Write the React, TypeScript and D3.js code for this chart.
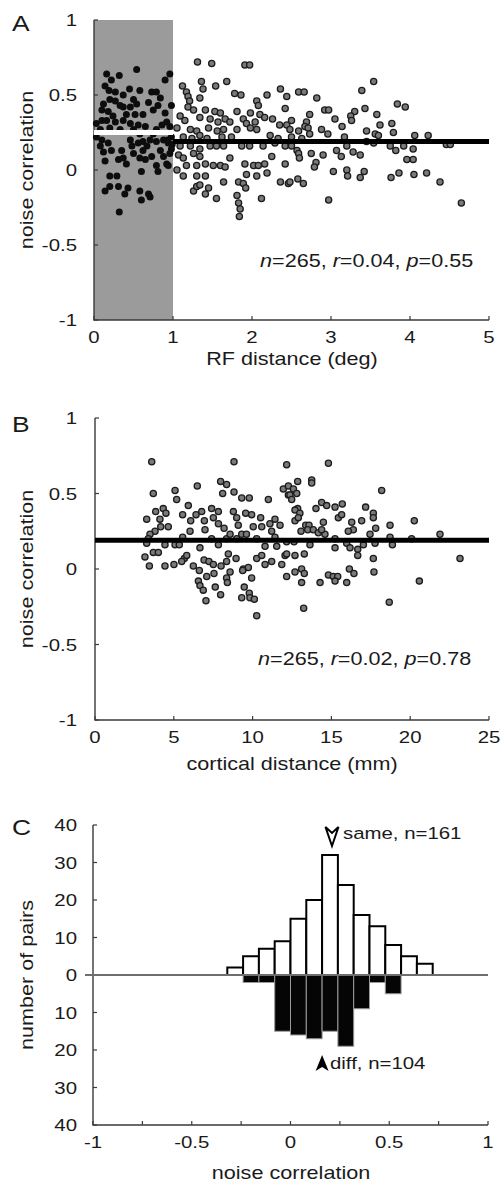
import React from "react";
import * as d3 from "d3";

// panel A: noise correlation vs RF distance (deg), pairs with RF distance < 1 deg in black
const nearRF: [number, number][] = [
  [0.16, 0.64], [0.22, 0.6], [0.32, 0.63], [0.54, 0.67], [0.96, 0.64], [0.9, 0.6],
  [0.14, 0.56], [0.19, 0.53], [0.27, 0.52], [0.37, 0.5], [0.45, 0.54], [0.58, 0.53], [0.73, 0.52], [0.79, 0.52], [0.84, 0.48],
  [0.12, 0.44], [0.2, 0.47], [0.27, 0.46], [0.33, 0.43], [0.37, 0.42], [0.5, 0.47], [0.54, 0.44], [0.69, 0.45], [0.81, 0.43], [0.98, 0.43], [0.46, 0.42],
  [0.1, 0.4], [0.18, 0.39], [0.24, 0.36], [0.41, 0.37], [0.52, 0.37], [0.62, 0.37], [0.75, 0.4], [0.9, 0.38],
  [0.03, 0.31], [0.1, 0.33], [0.16, 0.33], [0.27, 0.32], [0.37, 0.33], [0.46, 0.31], [0.56, 0.3], [0.65, 0.29], [0.86, 0.3], [0.92, 0.32], [0.96, 0.29],
  [0.08, 0.27], [0.2, 0.28], [0.33, 0.27], [0.5, 0.27], [0.79, 0.27], [0.58, 0.24], [0.75, 0.24],
  [0.03, 0.22], [0.1, 0.2], [0.18, 0.18], [0.46, 0.2], [0.48, 0.16], [0.56, 0.18], [0.62, 0.19], [0.71, 0.2], [0.79, 0.19], [0.88, 0.2],
  [0.93, 0.2], [0.94, 0.18], [0.98, 0.22], [0.99, 0.17], [0.98, 0.14], [0.67, 0.16], [0.08, 0.16],
  [0.12, 0.12], [0.22, 0.13], [0.35, 0.13], [0.5, 0.11], [0.62, 0.13], [0.84, 0.13], [0.96, 0.11], [0.88, 0.09],
  [0.14, 0.06], [0.31, 0.07], [0.37, 0.08], [0.41, 0.04], [0.58, 0.08], [0.65, 0.07], [0.73, 0.09], [0.79, 0.03], [0.92, 0.04], [0.94, 0.03],
  [0.2, -0.04], [0.29, -0.04], [0.6, -0.01], [0.81, -0.01],
  [0.14, -0.14], [0.2, -0.11], [0.31, -0.11], [0.39, -0.16], [0.43, -0.12], [0.58, -0.14], [0.69, -0.16], [0.71, -0.18], [0.6, -0.2], [0.32, -0.28],
];

const farRF: [number, number][] = [
  [1.31, 0.72], [1.49, 0.71], [1.91, 0.7], [1.97, 0.7],
  [1.36, 0.59], [1.54, 0.56], [1.68, 0.59], [1.12, 0.56], [1.17, 0.52], [1.19, 0.49], [1.21, 0.46], [1.19, 0.42], [1.38, 0.54], [1.34, 0.48],
  [1.78, 0.51], [1.86, 0.5], [2.19, 0.5], [2.36, 0.54], [2.06, 0.46], [2.08, 0.43], [2.42, 0.41],
  [1.26, 0.4], [1.41, 0.4], [1.53, 0.39], [1.6, 0.38], [1.81, 0.39], [1.98, 0.38], [2.1, 0.37], [2.16, 0.35], [2.26, 0.34],
  [1.09, 0.36], [1.15, 0.33], [1.34, 0.35], [1.47, 0.34], [1.57, 0.32], [1.66, 0.34], [1.72, 0.32], [1.89, 0.34], [1.93, 0.31], [2.04, 0.32],
  [1.05, 0.28], [1.22, 0.27], [1.3, 0.26], [1.45, 0.28], [1.56, 0.26], [1.64, 0.27], [1.81, 0.27], [1.98, 0.28], [2.06, 0.27], [2.35, 0.3],
  [2.44, 0.3], [2.23, 0.23], [2.33, 0.21],
  [1.13, 0.22], [1.24, 0.21], [1.34, 0.23], [1.43, 0.21], [1.62, 0.22], [1.74, 0.22],
  [1.47, 0.16], [1.55, 0.16], [1.64, 0.16], [1.87, 0.16], [1.97, 0.16], [2.14, 0.16], [2.29, 0.18], [1.09, 0.16], [1.22, 0.16], [1.34, 0.14],
  [1.07, 0.1], [1.13, 0.08], [1.26, 0.11], [1.34, 0.09], [1.17, 0.03], [1.3, 0.03], [1.41, 0.04], [1.51, 0.03], [1.6, 0.03], [1.66, 0.02],
  [1.72, 0.08], [1.91, 0.04], [2.02, 0.03], [2.08, 0.03], [2.16, 0.04], [2.25, 0.09],
  [1.05, 0.0], [1.13, -0.04], [1.3, -0.04], [1.41, -0.04], [1.64, -0.08], [1.83, -0.08], [1.89, -0.09], [1.93, -0.03], [2.06, -0.04],
  [2.19, -0.02], [2.36, -0.08], [2.46, -0.09],
  [1.26, -0.14], [1.3, -0.11], [1.34, -0.1], [1.41, -0.16], [1.45, -0.12], [1.55, -0.19], [1.81, -0.17], [1.83, -0.22], [1.85, -0.26],
  [1.84, -0.31], [1.92, -0.12], [2.12, -0.19], [2.97, -0.2], [4.65, -0.22],
  [2.59, 0.52], [2.66, 0.52], [2.82, 0.48], [2.44, 0.49], [3.54, 0.59], [3.39, 0.53], [2.92, 0.4], [2.97, 0.4], [2.73, 0.37], [3.3, 0.39],
  [3.43, 0.41], [3.25, 0.36], [3.26, 0.33], [3.05, 0.34], [3.58, 0.37], [3.84, 0.44], [3.94, 0.42],
  [2.5, 0.33], [2.69, 0.32], [3.14, 0.29], [3.62, 0.3], [3.77, 0.31], [2.67, 0.29], [2.71, 0.28], [2.88, 0.27], [2.48, 0.27], [2.59, 0.26],
  [2.96, 0.24], [2.73, 0.24], [3.45, 0.26], [3.56, 0.24], [3.6, 0.23], [3.79, 0.25], [4.06, 0.23], [4.23, 0.23],
  [2.5, 0.22], [2.63, 0.21], [3.17, 0.22], [2.42, 0.16], [2.5, 0.16], [2.57, 0.13], [2.59, 0.11], [3.2, 0.16], [3.45, 0.19], [3.54, 0.18],
  [3.75, 0.16], [3.92, 0.16], [4.04, 0.14], [3.82, 0.13], [4.46, 0.17], [4.51, 0.17],
  [2.75, 0.11], [2.9, 0.1], [3.07, 0.13], [3.13, 0.09], [3.28, 0.12], [3.37, 0.1], [2.6, 0.08], [2.42, 0.04], [2.81, 0.05], [2.79, 0.02],
  [3.96, 0.07], [4.04, 0.07],
  [3.03, -0.01], [3.2, 0.0], [3.21, -0.04], [3.37, -0.05], [3.42, -0.01], [3.86, -0.02], [3.76, -0.05], [4.05, -0.03], [4.21, -0.02],
  [4.38, -0.08], [2.48, -0.08], [2.58, -0.06], [2.65, -0.09],
];

// fitted levels in panel A (inside / outside 1 deg) and panel B
const nearMean = 0.25;
const fitA = 0.19;
const fitB = 0.19;

// panel B: noise correlation vs cortical distance (mm)
const cortical: [number, number][] = [
  [3.6, 0.71], [8.82, 0.71], [12.16, 0.69], [3.7, 0.5], [6.49, 0.55], [5.08, 0.52], [5.18, 0.46], [7.97, 0.58], [8.35, 0.56], [8.82, 0.51],
  [8.1, 0.5], [9.31, 0.47], [9.79, 0.47], [11.0, 0.46], [11.95, 0.53], [12.27, 0.49],
  [3.28, 0.33], [3.85, 0.38], [4.12, 0.33], [4.33, 0.4], [4.5, 0.37], [4.65, 0.28], [4.17, 0.28], [3.81, 0.25], [3.49, 0.23], [3.38, 0.2],
  [5.56, 0.36], [5.92, 0.42], [6.07, 0.32], [6.41, 0.36], [6.77, 0.38], [6.94, 0.32], [7.4, 0.4], [7.83, 0.38], [7.51, 0.34], [6.98, 0.26],
  [7.83, 0.3], [8.19, 0.27], [8.78, 0.38], [8.99, 0.34], [9.56, 0.37], [9.94, 0.36], [10.51, 0.34], [11.1, 0.3], [11.42, 0.33], [11.74, 0.29],
  [9.09, 0.29], [10.04, 0.28], [10.58, 0.28], [11.21, 0.25], [5.56, 0.21], [6.03, 0.25],
  [5.08, 0.16], [5.35, 0.16], [4.44, 0.16], [3.7, 0.11], [4.02, 0.11], [3.28, 0.17], [6.66, 0.14], [7.4, 0.2], [7.83, 0.16], [8.35, 0.2],
  [8.57, 0.23], [8.99, 0.2], [9.31, 0.23], [9.61, 0.23], [10.26, 0.2], [10.79, 0.15], [11.42, 0.21], [11.53, 0.15], [12.16, 0.18], [12.06, 0.09],
  [3.17, 0.08], [3.45, 0.02], [4.44, 0.02], [5.01, 0.03], [5.67, 0.07], [5.82, 0.09], [6.24, 0.02], [6.92, 0.06], [7.23, 0.05], [7.51, 0.03],
  [8.0, 0.02], [8.35, 0.05], [8.46, 0.1], [8.95, 0.07], [9.41, 0.0], [9.73, 0.01], [10.26, 0.07], [10.58, 0.09], [10.79, 0.03], [11.21, 0.05],
  [11.85, 0.03], [5.5, 0.05],
  [12.16, -0.05], [6.62, -0.01], [7.09, -0.05], [7.55, -0.03], [8.35, -0.06], [8.57, -0.02], [9.37, -0.01], [9.94, -0.06], [6.56, -0.08],
  [6.66, -0.11], [6.87, -0.14], [7.63, -0.12], [7.97, -0.17], [7.04, -0.21], [8.4, -0.09], [9.47, -0.12], [9.79, -0.16], [9.83, -0.19],
  [10.11, -0.2], [9.31, -0.19], [10.26, -0.31], [13.24, -0.26], [18.67, -0.22], [20.58, -0.08],
  [14.81, 0.7], [18.19, 0.52], [13.75, 0.59], [13.75, 0.57], [12.86, 0.58], [12.27, 0.55], [12.59, 0.53], [12.8, 0.5], [12.37, 0.49], [12.48, 0.46],
  [12.86, 0.4], [12.69, 0.39], [13.0, 0.37], [12.69, 0.32], [12.9, 0.34], [13.37, 0.29], [13.58, 0.29], [13.5, 0.26], [13.07, 0.25], [13.85, 0.26],
  [14.17, 0.24], [14.49, 0.31], [14.38, 0.44], [14.7, 0.42], [14.02, 0.4], [15.23, 0.41], [15.69, 0.43], [15.44, 0.34], [15.65, 0.36], [17.17, 0.41],
  [17.66, 0.37], [17.66, 0.34], [16.92, 0.32], [16.29, 0.31], [16.39, 0.26], [16.07, 0.25], [17.45, 0.23], [17.81, 0.27], [18.72, 0.29], [20.26, 0.32],
  [21.89, 0.23], [14.59, 0.23], [14.38, 0.26], [15.23, 0.2], [15.97, 0.17], [16.18, 0.14], [16.67, 0.13], [16.67, 0.09], [17.03, 0.16], [17.77, 0.17],
  [18.72, 0.21], [18.87, 0.16], [20.09, 0.2], [17.66, 0.07], [17.7, -0.02], [23.16, 0.07], [15.23, 0.14], [13.28, 0.1], [12.69, 0.09], [12.16, 0.1],
  [13.64, 0.16], [12.63, 0.18], [12.69, -0.02], [13.11, 0.0], [13.28, -0.03], [13.11, -0.09], [14.28, -0.09], [14.81, -0.04], [15.12, -0.05],
  [15.4, -0.05], [15.23, -0.08], [15.97, -0.09], [16.14, 0.0], [16.43, -0.03],
];

// panel C: histogram of noise correlation, bins of 0.08
const binLeft = [-0.32, -0.24, -0.16, -0.08, 0, 0.08, 0.16, 0.24, 0.32, 0.4, 0.48, 0.56, 0.64];
const sameCounts = [2, 5, 7, 9, 15, 20, 32, 24, 16, 13, 8, 5, 3];
const diffCounts = [0, 2, 2, 15, 16, 17, 15, 19, 9, 2, 5, 0, 0];
const binWidth = 0.08;
const sameMean = 0.21;
const diffMean = 0.16;

const corrTicks = [-1, -0.5, 0, 0.5, 1];
const rfTicks = [0, 1, 2, 3, 4, 5];
const cortTicks = [0, 5, 10, 15, 20, 25];
const countTicks = [-40, -30, -20, -10, 0, 10, 20, 30, 40];
const histMinor = [-1, -0.75, -0.5, -0.25, 0, 0.25, 0.5, 0.75, 1];
const histLabels = [-1, -0.5, 0, 0.5, 1];

const FONT = "'Liberation Sans', Arial, Helvetica, sans-serif";
const SX = 1.2; // the original lettering is wider than Arial
const AX = "#3a3a3a";

const xA = d3.scaleLinear().domain([0, 5]).range([94, 489]);
const yA = d3.scaleLinear().domain([-1, 1]).range([320, 20]);
const xB = d3.scaleLinear().domain([0, 25]).range([95, 489]);
const yB = d3.scaleLinear().domain([-1, 1]).range([720, 418]);
const xC = d3.scaleLinear().domain([-1, 1]).range([93, 488]);
const yC = d3.scaleLinear().domain([-40, 40]).range([1125, 825]);

function Txt({ x, y, size, anchor = "start", rotate = 0, children }: any) {
  const tr = `translate(${x},${y})${rotate ? ` rotate(${rotate})` : ""} scale(${SX},1)`;
  return (
    <text transform={tr} fontSize={size} textAnchor={anchor} fontFamily={FONT} fill="#1a1a1a">
      {children}
    </text>
  );
}

function Axes({ x, y, xt, yt, xl, yl, fmtY }: any) {
  const [x0, x1] = x.range();
  const [y0, y1] = y.range();
  return (
    <g>
      <path d={`M${x0},${y1}V${y0}H${x1}`} fill="none" stroke={AX} strokeWidth={1.4} />
      {xt.map((t: number) => (
        <line key={"x" + t} x1={x(t)} x2={x(t)} y1={y0} y2={y0 - 4} stroke={AX} strokeWidth={1.2} />
      ))}
      {yt.map((t: number) => (
        <line key={"y" + t} x1={x0} x2={x0 + 4} y1={y(t)} y2={y(t)} stroke={AX} strokeWidth={1.2} />
      ))}
      {xl.map((t: number) => (
        <Txt key={"xl" + t} x={x(t)} y={y0 + 23} size={17} anchor="middle">
          {String(t)}
        </Txt>
      ))}
      {yl.map((t: number) => (
        <Txt key={"yl" + t} x={77} y={y(t) + 6} size={17} anchor="end">
          {fmtY ? fmtY(t) : String(t)}
        </Txt>
      ))}
    </g>
  );
}

function Stats({ x, y, r, p }: any) {
  return (
    <text transform={`translate(${x},${y}) scale(${SX},1)`} fontSize={18} fontFamily={FONT} fill="#1a1a1a">
      <tspan fontStyle="italic">n</tspan>=265, <tspan fontStyle="italic">r</tspan>={r},{" "}
      <tspan fontStyle="italic">p</tspan>={p}
    </text>
  );
}

export default function App() {
  const zeroY = yC(0);
  return (
    <svg width={501} height={1184} style={{ position: "absolute", left: 0, top: 0, background: "#fff" }}>
      {/* ---- A ---- */}
      <rect x={xA(0)} y={yA(1)} width={xA(1) - xA(0)} height={yA(-1) - yA(1)} fill="#9b9b9b" />
      <Axes x={xA} y={yA} xt={rfTicks} yt={corrTicks} xl={rfTicks} yl={corrTicks} />
      {farRF.map((d, i) => (
        <circle key={"f" + i} cx={xA(d[0])} cy={yA(d[1])} r={3.1} fill="#7a7a7a" stroke="#1c1c1c" strokeWidth={1.3} />
      ))}
      {nearRF.map((d, i) => (
        <circle key={"n" + i} cx={xA(d[0])} cy={yA(d[1])} r={3.5} fill="#0d0d0d" />
      ))}
      <line x1={xA(0)} x2={xA(1)} y1={yA(nearMean)} y2={yA(nearMean)} stroke="#fff" strokeWidth={5} />
      <line x1={xA(1)} x2={xA(5)} y1={yA(fitA)} y2={yA(fitA)} stroke="#000" strokeWidth={5} />
      <Stats x={260} y={267} r="0.04" p="0.55" />
      <Txt x={12} y={31} size={22}>A</Txt>
      <Txt x={33} y={170} size={18} anchor="middle" rotate={-90}>noise correlation</Txt>
      <Txt x={292} y={365} size={18} anchor="middle">RF distance (deg)</Txt>

      {/* ---- B ---- */}
      <Axes x={xB} y={yB} xt={cortTicks} yt={corrTicks} xl={cortTicks} yl={corrTicks} />
      {cortical.map((d, i) => (
        <circle key={"c" + i} cx={xB(d[0])} cy={yB(d[1])} r={3.1} fill="#7a7a7a" stroke="#1c1c1c" strokeWidth={1.3} />
      ))}
      <line x1={xB(0)} x2={xB(25)} y1={yB(fitB)} y2={yB(fitB)} stroke="#000" strokeWidth={5} />
      <Stats x={258} y={665} r="0.02" p="0.78" />
      <Txt x={12} y={432} size={22}>B</Txt>
      <Txt x={33} y={569} size={18} anchor="middle" rotate={-90}>noise correlation</Txt>
      <Txt x={292} y={770} size={18} anchor="middle">cortical distance (mm)</Txt>

      {/* ---- C ---- */}
      <Axes x={xC} y={yC} xt={histMinor} yt={countTicks} xl={histLabels} yl={countTicks} fmtY={(t: number) => String(Math.abs(t))} />
      {binLeft.map((b, i) =>
        sameCounts[i] > 0 ? (
          <rect key={"s" + i} x={xC(b)} y={yC(sameCounts[i])} width={xC(b + binWidth) - xC(b)} height={zeroY - yC(sameCounts[i])}
            fill="#fff" stroke="#000" strokeWidth={2} />
        ) : null
      )}
      {binLeft.map((b, i) =>
        diffCounts[i] > 0 ? (
          <rect key={"d" + i} x={xC(b)} y={zeroY} width={xC(b + binWidth) - xC(b)} height={yC(-diffCounts[i]) - zeroY}
            fill="#050505" stroke="#9a9a9a" strokeWidth={1} />
        ) : null
      )}
      <line x1={85} x2={xC(1)} y1={zeroY} y2={zeroY} stroke="#6e6e6e" strokeWidth={2} />
      <path transform={`translate(${xC(sameMean)},${827})`} d="M-6.5,0 L0,6 L6.5,0 L0,19 Z" fill="#fff" stroke="#000" strokeWidth={2} strokeLinejoin="miter" />
      <Txt x={343} y={839} size={17}>same, n=161</Txt>
      <path transform={`translate(${xC(diffMean)},${1055})`} d="M0,0 L6.5,16 L0,12 L-6.5,16 Z" fill="#000" />
      <Txt x={330} y={1069} size={17}>diff, n=104</Txt>
      <Txt x={12} y={835} size={22}>C</Txt>
      <Txt x={33} y={975} size={18} anchor="middle" rotate={-90}>number of pairs</Txt>
      <Txt x={291} y={1179} size={18} anchor="middle">noise correlation</Txt>
    </svg>
  );
}
